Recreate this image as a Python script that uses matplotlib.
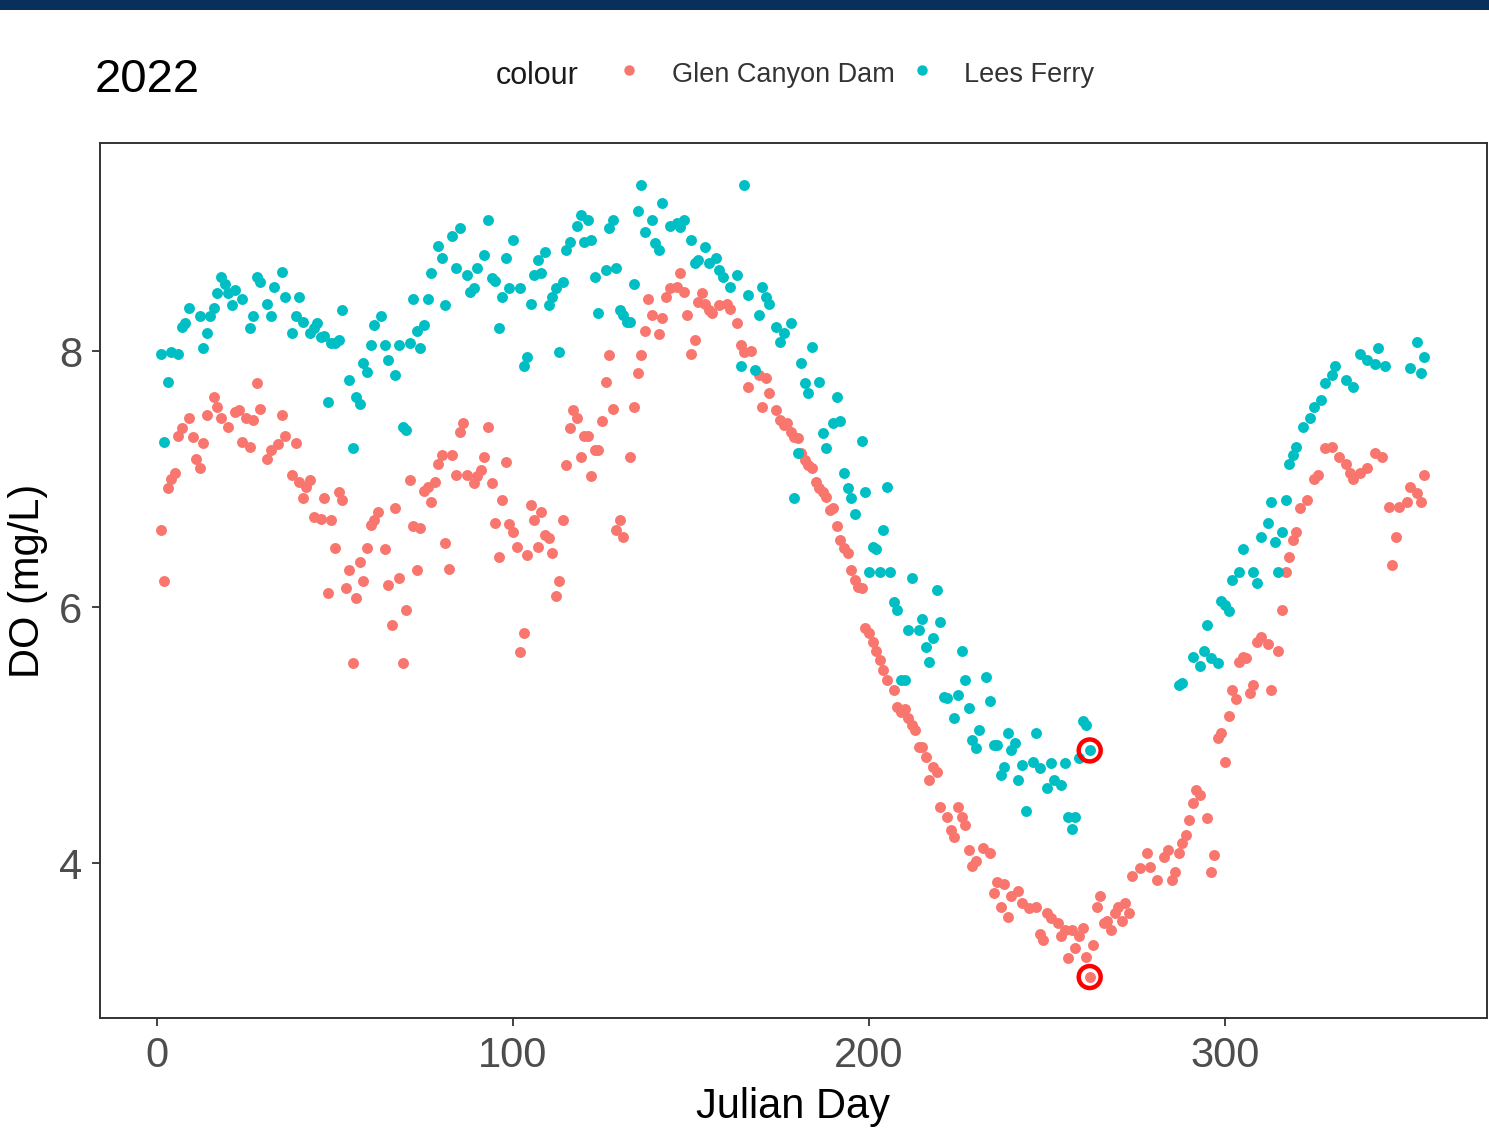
import matplotlib
matplotlib.use("Agg")
import matplotlib.pyplot as plt
from matplotlib.lines import Line2D
from matplotlib.patches import Rectangle

plt.rcParams['font.family'] = ['Liberation Sans', 'DejaVu Sans']

# Glen Canyon Dam (red) - Julian day / DO (mg/L)
gcd_day = [1, 2, 3, 4, 5, 6, 7, 9, 10, 11, 12, 13, 14, 16, 17, 18, 20, 22, 23, 24,
           25, 26, 27, 28, 29, 31, 32, 34, 35, 36, 38, 39, 40, 41, 42, 43, 44, 46, 47, 48,
           49, 50, 51, 52, 53, 54, 55, 56, 57, 58, 59, 60, 61, 62, 64, 65, 66, 67, 68, 69,
           70, 71, 72, 73, 74, 75, 76, 77, 78, 79, 80, 81, 82, 83, 84, 85, 86, 87, 89, 90,
           91, 92, 93, 94, 95, 96, 97, 98, 99, 100, 101, 102, 103, 104, 105, 106, 107, 108, 109, 110,
           111, 112, 113, 114, 115, 116, 117, 118, 119, 120, 121, 122, 123, 124, 125, 126, 127, 128, 129, 130,
           131, 133, 134, 135, 136, 137, 138, 139, 141, 142, 143, 144, 146, 147, 148, 149, 150, 151, 152, 153,
           154, 155, 156, 158, 160, 161, 163, 164, 165, 166, 167, 169, 170, 171, 172, 174, 175, 176, 177, 178,
           179, 180, 181, 182, 183, 184, 185, 186, 187, 188, 189, 190, 191, 192, 193, 194, 195, 196, 197, 198,
           199, 200, 201, 202, 203, 204, 205, 207, 208, 209, 210, 211, 212, 213, 214, 215, 216, 217, 218, 219,
           220, 222, 223, 224, 225, 226, 227, 228, 229, 230, 232, 234, 235, 236, 237, 238, 239, 240, 242, 243,
           245, 247, 248, 249, 250, 251, 253, 254, 255, 256, 257, 258, 259, 260, 261, 262, 263, 264, 265, 266,
           267, 268, 269, 270, 271, 272, 273, 274, 276, 278, 279, 281, 283, 284, 285, 286, 287, 288, 289, 290,
           291, 292, 293, 295, 296, 297, 298, 299, 300, 301, 302, 303, 304, 305, 306, 307, 308, 309, 310, 312,
           313, 315, 316, 317, 318, 319, 320, 321, 323, 325, 326, 328, 330, 332, 334, 335, 336, 338, 340, 342,
           344, 346, 347, 348, 349, 351, 352, 354, 355, 356]
gcd_do = [6.60, 6.20, 6.93, 7.00, 7.05, 7.34, 7.40, 7.48, 7.33, 7.16, 7.09, 7.28, 7.50, 7.64, 7.56, 7.48, 7.41, 7.52, 7.54, 7.29,
          7.48, 7.25, 7.46, 7.75, 7.55, 7.16, 7.23, 7.27, 7.50, 7.34, 7.03, 7.28, 6.98, 6.85, 6.94, 6.99, 6.70, 6.69, 6.85, 6.11,
          6.68, 6.46, 6.90, 6.84, 6.15, 6.29, 5.56, 6.07, 6.35, 6.20, 6.46, 6.64, 6.68, 6.74, 6.45, 6.17, 5.86, 6.77, 6.23, 5.56,
          5.98, 6.99, 6.63, 6.29, 6.62, 6.91, 6.94, 6.82, 6.98, 7.12, 7.19, 6.50, 6.30, 7.19, 7.03, 7.37, 7.44, 7.03, 6.97, 7.02,
          7.07, 7.17, 7.41, 6.97, 6.66, 6.39, 6.84, 7.13, 6.65, 6.59, 6.47, 5.65, 5.80, 6.41, 6.80, 6.68, 6.47, 6.74, 6.56, 6.54,
          6.42, 6.09, 6.20, 6.68, 7.11, 7.40, 7.54, 7.48, 7.17, 7.34, 7.34, 7.02, 7.23, 7.23, 7.45, 7.76, 7.97, 7.55, 6.60, 6.68,
          6.55, 7.17, 7.56, 7.83, 7.97, 8.16, 8.41, 8.28, 8.13, 8.26, 8.42, 8.49, 8.50, 8.61, 8.46, 8.28, 7.98, 8.09, 8.38, 8.45,
          8.37, 8.32, 8.30, 8.36, 8.37, 8.33, 8.22, 8.05, 7.99, 7.72, 8.00, 7.81, 7.56, 7.79, 7.67, 7.54, 7.46, 7.42, 7.44, 7.37,
          7.33, 7.32, 7.20, 7.15, 7.11, 7.09, 6.98, 6.93, 6.90, 6.86, 6.76, 6.77, 6.63, 6.52, 6.46, 6.42, 6.29, 6.21, 6.16, 6.15,
          5.84, 5.80, 5.73, 5.66, 5.59, 5.51, 5.43, 5.35, 5.22, 5.18, 5.20, 5.13, 5.08, 5.04, 4.91, 4.91, 4.83, 4.65, 4.75, 4.71,
          4.44, 4.36, 4.26, 4.20, 4.44, 4.36, 4.30, 4.10, 3.98, 4.02, 4.12, 4.08, 3.77, 3.85, 3.66, 3.84, 3.58, 3.74, 3.78, 3.69,
          3.65, 3.66, 3.45, 3.40, 3.61, 3.57, 3.53, 3.43, 3.48, 3.26, 3.48, 3.34, 3.43, 3.49, 3.27, 3.11, 3.36, 3.66, 3.74, 3.53,
          3.55, 3.48, 3.61, 3.66, 3.55, 3.69, 3.61, 3.90, 3.96, 4.08, 3.97, 3.87, 4.05, 4.10, 3.87, 3.93, 4.08, 4.16, 4.22, 4.34,
          4.47, 4.57, 4.53, 4.35, 3.93, 4.06, 4.98, 5.02, 4.79, 5.15, 5.35, 5.28, 5.57, 5.61, 5.60, 5.33, 5.39, 5.73, 5.77, 5.71,
          5.35, 5.66, 5.98, 6.27, 6.39, 6.52, 6.59, 6.77, 6.84, 7.00, 7.03, 7.24, 7.25, 7.17, 7.12, 7.05, 7.00, 7.05, 7.09, 7.20,
          7.17, 6.78, 6.33, 6.55, 6.78, 6.82, 6.94, 6.89, 6.82, 7.03]

# Lees Ferry (teal)
lf_day = [1, 2, 3, 4, 6, 7, 8, 9, 12, 13, 14, 15, 16, 17, 18, 19, 20, 21, 22, 24,
          26, 27, 28, 29, 31, 32, 33, 35, 36, 38, 39, 40, 41, 43, 44, 45, 46, 47, 48, 49,
          50, 51, 52, 54, 55, 56, 57, 58, 59, 60, 61, 63, 64, 65, 67, 68, 69, 70, 71, 72,
          73, 74, 75, 76, 77, 79, 80, 81, 83, 84, 85, 87, 88, 89, 90, 92, 93, 94, 95, 96,
          97, 98, 99, 100, 102, 103, 104, 105, 106, 107, 108, 109, 110, 111, 112, 113, 114, 115, 116, 118,
          119, 120, 121, 122, 123, 124, 126, 127, 128, 129, 130, 131, 132, 133, 134, 135, 136, 137, 139, 140,
          141, 142, 144, 146, 147, 148, 150, 151, 152, 154, 155, 157, 158, 159, 161, 163, 164, 165, 166, 168,
          169, 170, 171, 172, 174, 175, 176, 178, 179, 180, 181, 182, 183, 184, 186, 187, 188, 190, 191, 192,
          193, 194, 195, 196, 198, 199, 200, 201, 202, 203, 204, 205, 206, 207, 208, 209, 210, 211, 212, 214,
          215, 216, 217, 218, 219, 220, 221, 222, 224, 225, 226, 227, 228, 229, 230, 231, 233, 234, 235, 236,
          237, 238, 239, 240, 241, 242, 243, 244, 246, 247, 248, 250, 251, 252, 254, 255, 256, 257, 258, 259,
          260, 261, 262, 287, 288, 291, 293, 294, 295, 296, 298, 299, 300, 301, 302, 304, 305, 308, 309, 310,
          312, 313, 314, 315, 316, 317, 318, 319, 320, 322, 324, 325, 327, 328, 330, 331, 334, 336, 338, 340,
          342, 343, 345, 352, 354, 355, 356]
lf_do = [7.98, 7.29, 7.76, 7.99, 7.98, 8.19, 8.22, 8.34, 8.27, 8.02, 8.14, 8.27, 8.34, 8.45, 8.58, 8.52, 8.45, 8.36, 8.48, 8.41,
         8.18, 8.27, 8.58, 8.54, 8.37, 8.27, 8.50, 8.62, 8.42, 8.14, 8.27, 8.42, 8.23, 8.14, 8.18, 8.22, 8.11, 8.12, 7.60, 8.06,
         8.06, 8.09, 8.32, 7.77, 7.24, 7.64, 7.59, 7.91, 7.84, 8.05, 8.20, 8.27, 8.05, 7.93, 7.81, 8.05, 7.41, 7.38, 8.06, 8.41,
         8.16, 8.02, 8.20, 8.41, 8.61, 8.82, 8.73, 8.36, 8.90, 8.65, 8.96, 8.59, 8.46, 8.49, 8.65, 8.75, 9.02, 8.57, 8.55, 8.18,
         8.42, 8.73, 8.49, 8.87, 8.49, 7.88, 7.95, 8.37, 8.59, 8.71, 8.61, 8.77, 8.36, 8.42, 8.49, 7.99, 8.54, 8.79, 8.85, 8.98,
         9.06, 8.85, 9.02, 8.87, 8.58, 8.30, 8.63, 8.96, 9.02, 8.65, 8.32, 8.28, 8.23, 8.23, 8.52, 9.09, 9.30, 8.93, 9.02, 8.84,
         8.79, 9.16, 8.98, 9.00, 8.97, 9.02, 8.87, 8.69, 8.71, 8.81, 8.69, 8.73, 8.63, 8.58, 8.50, 8.59, 7.88, 9.30, 8.44, 7.85,
         8.28, 8.50, 8.42, 8.37, 8.19, 8.07, 8.14, 8.22, 6.85, 7.20, 7.91, 7.75, 7.67, 8.03, 7.76, 7.36, 7.24, 7.44, 7.64, 7.45,
         7.05, 6.93, 6.85, 6.73, 7.30, 6.90, 6.27, 6.47, 6.45, 6.27, 6.60, 6.94, 6.27, 6.04, 5.98, 5.43, 5.43, 5.82, 6.23, 5.82,
         5.91, 5.69, 5.57, 5.76, 6.13, 5.88, 5.30, 5.29, 5.13, 5.31, 5.66, 5.43, 5.21, 4.96, 4.90, 5.04, 5.45, 5.27, 4.92, 4.92,
         4.69, 4.75, 5.02, 4.88, 4.94, 4.65, 4.77, 4.41, 4.79, 5.02, 4.74, 4.59, 4.78, 4.65, 4.61, 4.78, 4.36, 4.27, 4.36, 4.82,
         5.11, 5.08, 4.88, 5.39, 5.41, 5.61, 5.54, 5.66, 5.86, 5.60, 5.56, 6.05, 6.02, 5.97, 6.21, 6.27, 6.45, 6.27, 6.19, 6.55,
         6.66, 6.82, 6.51, 6.27, 6.59, 6.84, 7.12, 7.19, 7.25, 7.41, 7.48, 7.56, 7.62, 7.75, 7.81, 7.88, 7.77, 7.72, 7.98, 7.93,
         7.90, 8.02, 7.88, 7.87, 8.07, 7.83, 7.95]

highlight_day = 262
x_ticks = [0, 100, 200, 300]
y_ticks = [4, 6, 8]

red = '#F8766D'
teal = '#00BFC4'

W, H = 1489, 1134
fig = plt.figure(figsize=(W / 100, H / 100), dpi=100)

# navy bar across the top
fig.add_artist(Rectangle((0, 1 - 10 / H), 1, 10 / H, transform=fig.transFigure,
                         facecolor='#08305A', edgecolor='none'))

ax = fig.add_axes([100 / W, 1 - 1018 / H, 1387 / W, 875 / H])
ax.scatter(gcd_day, gcd_do, s=62, color=red, linewidths=0, zorder=2)
ax.scatter(lf_day, lf_do, s=62, color=teal, linewidths=0, zorder=3)

# red rings around the day-262 readings
hl_y = [v for d, v in zip(lf_day, lf_do) if d == highlight_day] + \
       [v for d, v in zip(gcd_day, gcd_do) if d == highlight_day]
ax.scatter([highlight_day] * len(hl_y), hl_y, s=250, facecolors='none',
           edgecolors='#FF0000', linewidths=3.2, zorder=4)

ax.set_xlim(-16, 373.6)
ax.set_ylim(2.79, 9.625)
ax.set_xticks(x_ticks)
ax.set_yticks(y_ticks)
ax.tick_params(labelsize=30, labelcolor='#4D4D4D', color='#333333',
               length=6, width=1.3, pad=7)
for sp in ax.spines.values():
    sp.set_linewidth(1.4)
    sp.set_color('#333333')

ax.set_xlabel('Julian Day', fontsize=30, labelpad=8)
ax.set_ylabel('DO (mg/L)', fontsize=30, labelpad=8)

fig.text(95 / W, 1 - 92 / H, '2022', fontsize=34, va='baseline', ha='left')

# legend drawn by hand so it sits exactly as in the picture
fig.text(496 / W, 1 - 84 / H, 'colour', fontsize=22, color='#1A1A1A', va='baseline')
for xp, col, lab, xt in [(629, red, 'Glen Canyon Dam', 672), (922, teal, 'Lees Ferry', 964)]:
    fig.add_artist(Line2D([xp / W], [1 - 70 / H], marker='o', markersize=7.5,
                          color=col, markeredgewidth=0, transform=fig.transFigure))
    fig.text(xt / W, 1 - 82 / H, lab, fontsize=19.5, color='#333333', va='baseline')

fig.savefig('out.png', dpi=100)
